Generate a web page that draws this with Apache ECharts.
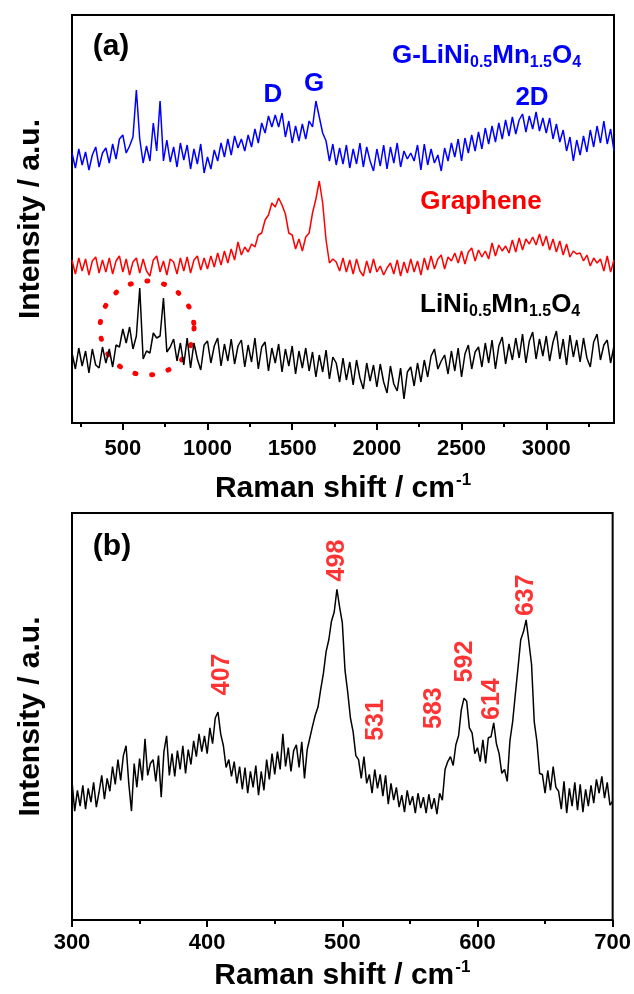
<!DOCTYPE html>
<html>
<head>
<meta charset="utf-8">
<script src="https://cdn.jsdelivr.net/npm/echarts@6/dist/echarts.min.js"></script>
<style>
  html, body { margin: 0; padding: 0; background: #fff; }
  #chart { width: 634px; height: 994px; }
</style>
</head>
<body>
<div id="chart"></div>
<script>
// ---- panel (a): full range spectra, one reading every 20 cm-1 from 200 to 3400 ----
const shiftStartA = 200
const shiftStepA = 20
const ticksA = [500, 1000, 1500, 2000, 2500, 3000]
const minorTicksA = [250, 750, 1250, 1750, 2250, 2750, 3250]

// G-LiNi0.5Mn1.5O4 (blue)
const compositeA = [
  270, 255, 274, 258, 271, 253, 268, 276, 256, 270,
  275, 260, 279, 264, 284, 288, 270, 277, 286, 333,
  284, 260, 277, 262, 300, 272, 322, 262, 283, 261,
  276, 256, 280, 263, 278, 254, 274, 259, 279, 250,
  266, 254, 273, 262, 280, 266, 284, 268, 287, 275,
  284, 272, 288, 276, 294, 280, 300, 290, 307, 296,
  308, 296, 310, 286, 302, 280, 297, 282, 299, 284,
  302, 296, 322, 306, 290, 282, 262, 279, 258, 275,
  259, 278, 255, 274, 259, 280, 256, 276, 262, 252,
  274, 257, 278, 254, 276, 260, 280, 256, 272, 264,
  270, 262, 278, 253, 279, 258, 274, 260, 268, 252,
  275, 262, 280, 266, 284, 262, 285, 270, 288, 272,
  291, 274, 295, 279, 297, 281, 300, 284, 303, 287,
  306, 289, 303, 309, 291, 307, 294, 311, 292, 305,
  290, 305, 284, 299, 281, 293, 272, 286, 262, 283,
  268, 287, 271, 293, 276, 297, 280, 302, 279, 294,
  272
]

// Graphene (red)
const grapheneA = [
  163, 149, 165, 152, 164, 148, 162, 166, 150, 163,
  151, 165, 149, 162, 167, 151, 164, 148, 161, 165,
  150, 164, 152, 147, 163, 167, 151, 162, 148, 164,
  161, 149, 165, 152, 166, 150, 163, 167, 153, 165,
  154, 167, 156, 170, 158, 172, 160, 174, 163, 181,
  168, 176, 171, 179, 176, 188, 190, 203, 208, 220,
  216, 225, 218, 209, 190, 188, 174, 184, 172, 186,
  190, 210, 224, 242, 220, 183, 160, 164, 161, 152,
  165, 151, 163, 149, 164, 152, 147, 162, 150, 164,
  151, 157, 148, 155, 160, 149, 163, 147, 161, 150,
  164, 151, 162, 148, 165, 153, 167, 154, 164, 168,
  154, 166, 162, 170, 160, 172, 159, 171, 175, 162,
  173, 166, 172, 164, 180, 167, 178, 172, 177, 170,
  183, 171, 185, 173, 184, 179, 186, 178, 189, 177,
  187, 173, 184, 171, 182, 168, 179, 166, 172, 169,
  170, 162, 168, 157, 165, 160, 164, 152, 167, 151,
  163
]

// LiNi0.5Mn1.5O4 (black)
const lnmoA = [
  70, 54, 75, 57, 72, 50, 74, 58, 55, 76,
  60, 74, 56, 78, 76, 94, 80, 96, 74, 87,
  135, 64, 72, 70, 90, 85, 87, 125, 71, 76,
  84, 62, 80, 58, 85, 55, 80, 64, 53, 78,
  82, 60, 77, 85, 57, 79, 62, 84, 59, 77,
  83, 56, 78, 61, 85, 54, 76, 81, 52, 75,
  60, 79, 51, 74, 57, 77, 49, 72, 55, 75,
  52, 71, 46, 68, 51, 73, 44, 66, 60, 41,
  65, 43, 61, 38, 63, 45, 34, 60, 42, 58,
  36, 59, 41, 30, 57, 39, 32, 55, 24, 51,
  56, 37, 60, 41, 63, 46, 67, 74, 54, 62,
  68, 49, 72, 52, 75, 46, 69, 78, 54, 71,
  76, 56, 80, 60, 83, 54, 77, 86, 59, 79,
  63, 85, 65, 89, 60, 82, 91, 64, 84, 67,
  87, 62, 81, 92, 64, 84, 58, 88, 66, 83,
  61, 85, 65, 56, 81, 89, 63, 78, 83, 60,
  77
]

// ---- panel (b): LiNi0.5Mn1.5O4 zoom, one reading every 2 cm-1 from 300 to 700 ----
const shiftStartB = 300
const shiftStepB = 2
const lnmoB = [
  140, 110, 131, 115, 136, 112, 133, 119, 139, 114,
  129, 146, 122, 143, 130, 155, 137, 162, 141, 166,
  176, 138, 110, 158, 134, 163, 141, 183, 146, 158,
  162, 140, 166, 124, 170, 186, 146, 168, 145, 171,
  152, 176, 148, 172, 157, 181, 165, 188, 170, 186,
  168, 194, 178, 204, 210, 188, 176, 154, 162, 145,
  160, 138, 155, 132, 154, 128, 150, 134, 156, 126,
  150, 131, 162, 142, 168, 147, 170, 152, 188, 155,
  174, 150, 171, 177, 154, 180, 143, 172, 184, 196,
  207, 215, 233, 249, 271, 283, 302, 311, 334, 316,
  300, 252, 230, 204, 190, 166, 162, 143, 165, 138,
  147, 128, 152, 133, 147, 125, 146, 117, 138, 121,
  134, 114, 126, 109, 131, 116, 125, 108, 128, 113,
  124, 108, 127, 112, 123, 107, 128, 121, 152, 160,
  165, 156, 177, 186, 212, 224, 221, 194, 189, 168,
  174, 160, 182, 158, 184, 185, 199, 178, 168, 148,
  152, 140, 181, 200, 228, 255, 283, 291, 303, 281,
  258, 200, 180, 148, 147, 128, 151, 131, 155, 134,
  130, 112, 140, 108, 133, 115, 139, 111, 137, 109,
  132, 115, 136, 118, 142, 128, 145, 123, 139, 116,
  120
]

const peakNames = ['407', '498', '531', '583', '592', '614', '637']
const peakLabelAt = [[411, 248], [496, 363], [525, 202], [568, 214], [591, 261], [611, 223], [636, 328]]

const FONT = '"Liberation Sans", Arial, sans-serif'

function pairs(start, step, values) {
  return values.map((v, i) => [start + i * step, v])
}

function ramanName() {
  return {
    name: '{t|Raman shift / cm}{s|-1}',
    nameLocation: 'middle',
    nameTextStyle: {
      rich: {
        t: { fontSize: 30, fontWeight: 'bold', fontFamily: FONT, color: '#000', lineHeight: 34 },
        s: { fontSize: 17, fontWeight: 'bold', fontFamily: FONT, color: '#000', lineHeight: 17, padding: [0, 0, 17, 1] }
      }
    }
  }
}

const tickFont = { fontSize: 22, fontWeight: 'bold', fontFamily: FONT, color: '#000', formatter: v => String(v) }

const chart = echarts.init(document.getElementById('chart'))

const option = {
  animation: false,
  backgroundColor: '#fff',
  grid: [
    { left: 72, top: 15, width: 542, height: 408, show: true, borderColor: '#000', borderWidth: 2 },
    { left: 72, top: 513, width: 542, height: 411, show: true, borderColor: '#000', borderWidth: 2 }
  ],
  xAxis: [
    Object.assign({
      gridIndex: 0, type: 'value', min: 200, max: 3400, position: 'bottom',
      axisLine: { show: true, onZero: false, lineStyle: { color: '#000', width: 2 } },
      axisTick: { show: true, customValues: ticksA, length: 7, lineStyle: { color: '#000', width: 2 } },
      axisLabel: Object.assign({ customValues: ticksA, margin: 15 }, tickFont),
      splitLine: { show: false },
      nameGap: 49
    }, ramanName()),
    {
      gridIndex: 0, type: 'value', min: 200, max: 3400, position: 'bottom', offset: 0,
      axisLine: { show: false },
      axisTick: { show: true, customValues: minorTicksA, length: 4, lineStyle: { color: '#000', width: 2 } },
      axisLabel: { show: false },
      splitLine: { show: false }
    },
    Object.assign({
      gridIndex: 1, type: 'value', min: 300, max: 700, interval: 100, position: 'bottom',
      axisLine: { show: true, onZero: false, lineStyle: { color: '#000', width: 2 } },
      axisTick: { show: true, length: 7, lineStyle: { color: '#000', width: 2 } },
      minorTick: { show: true, splitNumber: 2, length: 4, lineStyle: { color: '#000', width: 2 } },
      axisLabel: Object.assign({ margin: 12 }, tickFont),
      splitLine: { show: false },
      nameGap: 39
    }, ramanName())
  ],
  yAxis: [0, 1].map(g => ({
    gridIndex: g, type: 'value', min: 0, max: g === 0 ? 408 : 411,
    axisLine: { show: false }, axisTick: { show: false }, axisLabel: { show: false }, splitLine: { show: false },
    name: 'Intensity / a.u.', nameLocation: 'middle', nameGap: 26,
    nameTextStyle: { fontSize: 30, fontWeight: 'bold', fontFamily: FONT, color: '#000' }
  })),
  series: [
    { type: 'line', xAxisIndex: 0, yAxisIndex: 0, data: pairs(shiftStartA, shiftStepA, lnmoA), showSymbol: false, lineStyle: { color: '#000', width: 1.5 } },
    { type: 'line', xAxisIndex: 0, yAxisIndex: 0, data: pairs(shiftStartA, shiftStepA, grapheneA), showSymbol: false, lineStyle: { color: '#ff0000', width: 1.5 } },
    { type: 'line', xAxisIndex: 0, yAxisIndex: 0, data: pairs(shiftStartA, shiftStepA, compositeA), showSymbol: false, lineStyle: { color: '#0000ff', width: 1.5 } },
    { type: 'line', xAxisIndex: 2, yAxisIndex: 1, data: pairs(shiftStartB, shiftStepB, lnmoB), showSymbol: false, lineStyle: { color: '#000', width: 1.5 } },
    {
      type: 'scatter', xAxisIndex: 2, yAxisIndex: 1, data: peakLabelAt, symbolSize: 0,
      itemStyle: { color: 'transparent' }, silent: true,
      label: {
        show: true, position: 'inside', rotate: 90, formatter: p => peakNames[p.dataIndex],
        fontSize: 25, fontWeight: 'bold', fontFamily: FONT, color: '#ff0000'
      }
    }
  ]
}
chart.setOption(option)

// text annotations
function richText(x, y, color, parts) {
  const rich = {
    m: { fontSize: 26, fontWeight: 'bold', fontFamily: FONT, fill: color, lineHeight: 30 },
    s: { fontSize: 16, fontWeight: 'bold', fontFamily: FONT, fill: color, lineHeight: 16, padding: [14, 0, 0, 0] }
  }
  return {
    type: 'text', x: x, y: y,
    style: { text: parts, rich: rich, fill: color, align: 'left', verticalAlign: 'middle' }
  }
}
function plainText(x, y, color, text, size) {
  return {
    type: 'text', x: x, y: y,
    style: { text: text, fill: color, fontSize: size, fontWeight: 'bold', fontFamily: FONT, align: 'center', verticalAlign: 'middle' }
  }
}

// dotted ring around the spinel peaks in (a)
const circleAt = chart.convertToPixel({ xAxisIndex: 0, yAxisIndex: 0 }, [643, 95])

chart.setOption({
  graphic: [
    plainText(111, 47, '#000', '(a)', 30),
    plainText(112, 547, '#000', '(b)', 30),
    richText(392, 56, '#0000ff', '{m|G-LiNi}{s|0.5}{m|Mn}{s|1.5}{m|O}{s|4}'),
    plainText(273, 95, '#0000ff', 'D', 26),
    plainText(314, 84, '#0000ff', 'G', 26),
    plainText(532, 98, '#0000ff', '2D', 26),
    plainText(481, 202, '#ff0000', 'Graphene', 26),
    richText(420, 305, '#000', '{m|LiNi}{s|0.5}{m|Mn}{s|1.5}{m|O}{s|4}'),
    {
      type: 'circle', shape: { cx: circleAt[0], cy: circleAt[1], r: 47 },
      style: { fill: null, stroke: '#ff0000', lineWidth: 5, lineDash: [1, 16], lineCap: 'round' }
    }
  ]
})
</script>
</body>
</html>
